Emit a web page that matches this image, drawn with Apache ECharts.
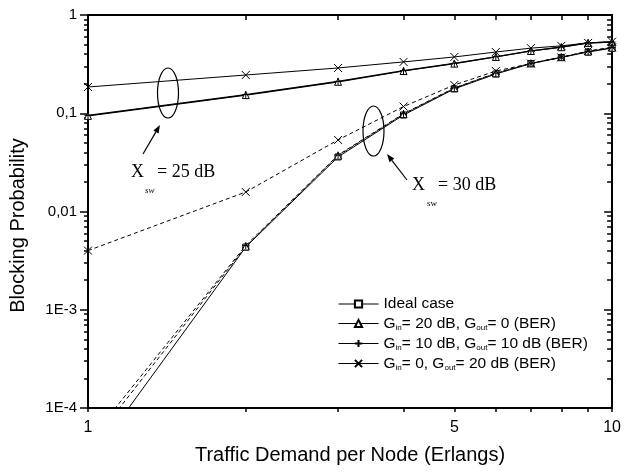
<!DOCTYPE html>
<html><head><meta charset="utf-8">
<script src="https://cdn.jsdelivr.net/npm/echarts@6/dist/echarts.min.js"></script>
<style>html,body{margin:0;padding:0;background:#fff}#c{width:624px;height:473px}</style>
</head><body><div id="c"></div>
<script>
// ---- data ----
const xValues = [1, 2, 3, 4, 5, 6, 7, 8, 9, 10];
const ideal   = [2.7e-5, 0.00435, 0.0359, 0.096, 0.177, 0.251, 0.32, 0.37, 0.42, 0.46];
// X_sw = 25 dB (solid)
const g20_25  = [0.094, 0.153, 0.209, 0.269, 0.32, 0.374, 0.43, 0.47, 0.52, 0.53];
const g10_25  = [0.095, 0.155, 0.211, 0.271, 0.322, 0.376, 0.432, 0.472, 0.52, 0.53];
const g0_25   = [0.185, 0.245, 0.289, 0.333, 0.374, 0.42, 0.46, 0.485, 0.52, 0.535];
// X_sw = 30 dB (dashed)
const g20_30  = [3.9e-5, 0.0044, 0.037, 0.098, 0.18, 0.255, 0.322, 0.372, 0.425, 0.465];
const g10_30  = [4.5e-5, 0.0045, 0.0375, 0.099, 0.181, 0.256, 0.323, 0.373, 0.426, 0.466];
const g0_30   = [0.004, 0.0158, 0.0535, 0.117, 0.194, 0.269, 0.32, 0.37, 0.43, 0.47];

const seriesNames = ['Ideal case', 'G_in= 20 dB, G_out= 0 (BER)', 'G_in= 10 dB, G_out= 10 dB (BER)', 'G_in= 0, G_out= 20 dB (BER)'];
const legendRich = [
  '{t|Ideal case}',
  '{t|G}{s|in}{t|= 20 dB, G}{s|out}{t|= 0 (BER)}',
  '{t|G}{s|in}{t|= 10 dB, G}{s|out}{t|= 10 dB (BER)}',
  '{t|G}{s|in}{t|= 0, G}{s|out}{t|= 20 dB (BER)}'
];
const xTickValues = [1, 2, 3, 4, 5, 6, 7, 8, 9, 10];
const xLabelValues = [1, 5, 10];
const xTickLabels = ['1', '5', '10'];
const yMajorValues = [1e-4, 1e-3, 0.01, 0.1, 1];
const yTickLabels = ['1E-4', '1E-3', '0,01', '0,1', '1'];
const xAxisName = 'Traffic Demand per Node (Erlangs)';
const yAxisName = 'Blocking Probability';

// ---- helpers ----
const yMinorValues = [];
for (let k = -4; k <= -1; k++) for (let m = 2; m <= 9; m++) yMinorValues.push(Number((m * Math.pow(10, k)).toPrecision(3)));
const pairs = arr => xValues.map((x, i) => [x, arr[i]]);
const FONT = 'Liberation Sans';
const SYM = {
  rect: 'rect',
  tri: 'triangle',
  plus: 'path://M5,0L5,10M0,5L10,5',
  cross: 'path://M0,0L10,10M0,10L10,0'
};
function mkSeries(name, data, sym, dashed, width, size) {
  return {
    type: 'line', name: name, data: pairs(data), symbol: sym, symbolSize: size || 7,
    color: '#000', clip: true,
    lineStyle: { color: '#000', width: width || 1, type: dashed ? [4, 3] : 'solid' },
    itemStyle: { color: '#fff', borderColor: '#000', borderWidth: 1 },
    emphasis: { disabled: true }, animation: false, z: 2
  };
}
const series = [
  mkSeries(seriesNames[1], g20_25, SYM.tri, false, 1.2, 7),
  mkSeries(seriesNames[2], g10_25, SYM.plus, false, 1.2, 7),
  mkSeries(seriesNames[3], g0_25, SYM.cross, false, 1, 8),
  mkSeries(seriesNames[0], ideal, SYM.rect, false, 1, 6),
  mkSeries(seriesNames[1], g20_30, SYM.tri, true, 1, 7),
  mkSeries(seriesNames[2], g10_30, SYM.plus, true, 1, 7),
  mkSeries(seriesNames[3], g0_30, SYM.cross, true, 1, 8)
];

const axisLineStyle = { color: '#000', width: 2 };
const tickStyle = { color: '#000', width: 1.5 };
function logX(extra) {
  return Object.assign({ type: 'log', logBase: 10, min: 1, max: 10, splitLine: { show: false }, minorTick: { show: false } }, extra);
}
function logY(extra) {
  return Object.assign({ type: 'log', logBase: 10, min: 1e-4, max: 1, splitLine: { show: false }, minorTick: { show: false } }, extra);
}

// arrows
function arrow(x1, y1, x2, y2) {
  const a = Math.atan2(y2 - y1, x2 - x1), L = 8, W = 3;
  const bx = x2 - L * Math.cos(a), by = y2 - L * Math.sin(a);
  const px = -Math.sin(a) * W, py = Math.cos(a) * W;
  return [
    { type: 'line', shape: { x1: x1, y1: y1, x2: bx, y2: by }, style: { stroke: '#000', lineWidth: 1.2 }, silent: true },
    { type: 'polygon', shape: { points: [[x2, y2], [bx + px, by + py], [bx - px, by - py]] }, style: { fill: '#000' }, silent: true }
  ];
}

const chart = echarts.init(document.getElementById('c'), null, { renderer: 'canvas' });
chart.setOption({
  animation: false,
  backgroundColor: '#fff',
  grid: { left: 88, right: 7, top: 15, bottom: 65, containLabel: false },
  xAxis: [
    logX({
      position: 'bottom',
      axisLine: { lineStyle: axisLineStyle },
      axisTick: { customValues: xTickValues, length: 4, lineStyle: tickStyle },
      axisLabel: { customValues: xLabelValues, color: '#000', fontSize: 16, fontFamily: FONT, margin: 12,
        alignMaxLabel: 'center', alignMinLabel: 'center',
        formatter: v => xTickLabels[xLabelValues.findIndex(u => Math.abs(u - v) < 1e-6)] },
      name: xAxisName, nameLocation: 'middle', nameGap: 37,
      nameTextStyle: { color: '#000', fontSize: 20, fontFamily: FONT }
    }),
    logX({
      position: 'top',
      axisLine: { lineStyle: axisLineStyle },
      axisTick: { customValues: xTickValues, inside: true, length: 5, lineStyle: tickStyle },
      axisLabel: { show: false }
    })
  ],
  yAxis: [
    logY({
      position: 'left',
      axisLine: { lineStyle: axisLineStyle },
      axisTick: { customValues: yMajorValues, length: 8, lineStyle: tickStyle },
      axisLabel: { customValues: yMajorValues, color: '#000', fontSize: 15, fontFamily: FONT, margin: 11,
        formatter: v => yTickLabels[Math.round(Math.log10(v)) + 4] },
      name: yAxisName, nameLocation: 'middle', nameGap: 60,
      nameTextStyle: { color: '#000', fontSize: 20, fontFamily: FONT, padding: [0, 28, 0, 0] }
    }),
    logY({
      position: 'left',
      axisLine: { show: false },
      axisTick: { customValues: yMinorValues, length: 4, lineStyle: tickStyle },
      axisLabel: { show: false }
    }),
    logY({
      position: 'right',
      axisLine: { lineStyle: axisLineStyle },
      axisTick: { customValues: yMajorValues, inside: true, length: 8, lineStyle: tickStyle },
      axisLabel: { show: false }
    }),
    logY({
      position: 'right',
      axisLine: { show: false },
      axisTick: { customValues: yMinorValues, inside: true, length: 5, lineStyle: tickStyle },
      axisLabel: { show: false }
    })
  ],
  legend: {
    orient: 'vertical', left: 338, top: 296, padding: 0, itemWidth: 40, itemHeight: 9, itemGap: 3,
    data: seriesNames, selectedMode: false,
    lineStyle: { width: 1 },
    formatter: n => legendRich[seriesNames.indexOf(n)],
    textStyle: { color: '#000', fontSize: 15.5, fontFamily: FONT,
      rich: { t: { color: '#000', fontSize: 15.5, fontFamily: FONT, lineHeight: 16 },
              s: { color: '#000', fontSize: 8, fontFamily: FONT, lineHeight: 8, padding: [9, 0, 0, 0] } } }
  },
  graphic: [
    { type: 'ellipse', shape: { cx: 168, cy: 93, rx: 10.5, ry: 25 }, style: { fill: 'none', stroke: '#000', lineWidth: 1.2 }, silent: true },
    { type: 'ellipse', shape: { cx: 373.5, cy: 131, rx: 10.5, ry: 25 }, style: { fill: 'none', stroke: '#000', lineWidth: 1.2 }, silent: true },
    ...arrow(143, 154, 160, 125),
    ...arrow(407, 180, 387, 154),
    { type: 'text', left: 131, top: 163, style: { text: 'X', font: '18px "Liberation Serif"', fill: '#000' }, silent: true },
    { type: 'text', left: 145, top: 186, style: { text: 'sw', font: 'italic 9px "Liberation Serif"', fill: '#000' }, silent: true },
    { type: 'text', left: 157, top: 163, style: { text: '= 25 dB', font: '18px "Liberation Serif"', fill: '#000' }, silent: true },
    { type: 'text', left: 412, top: 176, style: { text: 'X', font: '18px "Liberation Serif"', fill: '#000' }, silent: true },
    { type: 'text', left: 427, top: 199, style: { text: 'sw', font: '9px "Liberation Serif"', fill: '#000' }, silent: true },
    { type: 'text', left: 438, top: 176, style: { text: '= 30 dB', font: '18px "Liberation Serif"', fill: '#000' }, silent: true }
  ],
  series: series.map(s => Object.assign(s, { xAxisIndex: 0, yAxisIndex: 0 }))
});
</script>
</body></html>
